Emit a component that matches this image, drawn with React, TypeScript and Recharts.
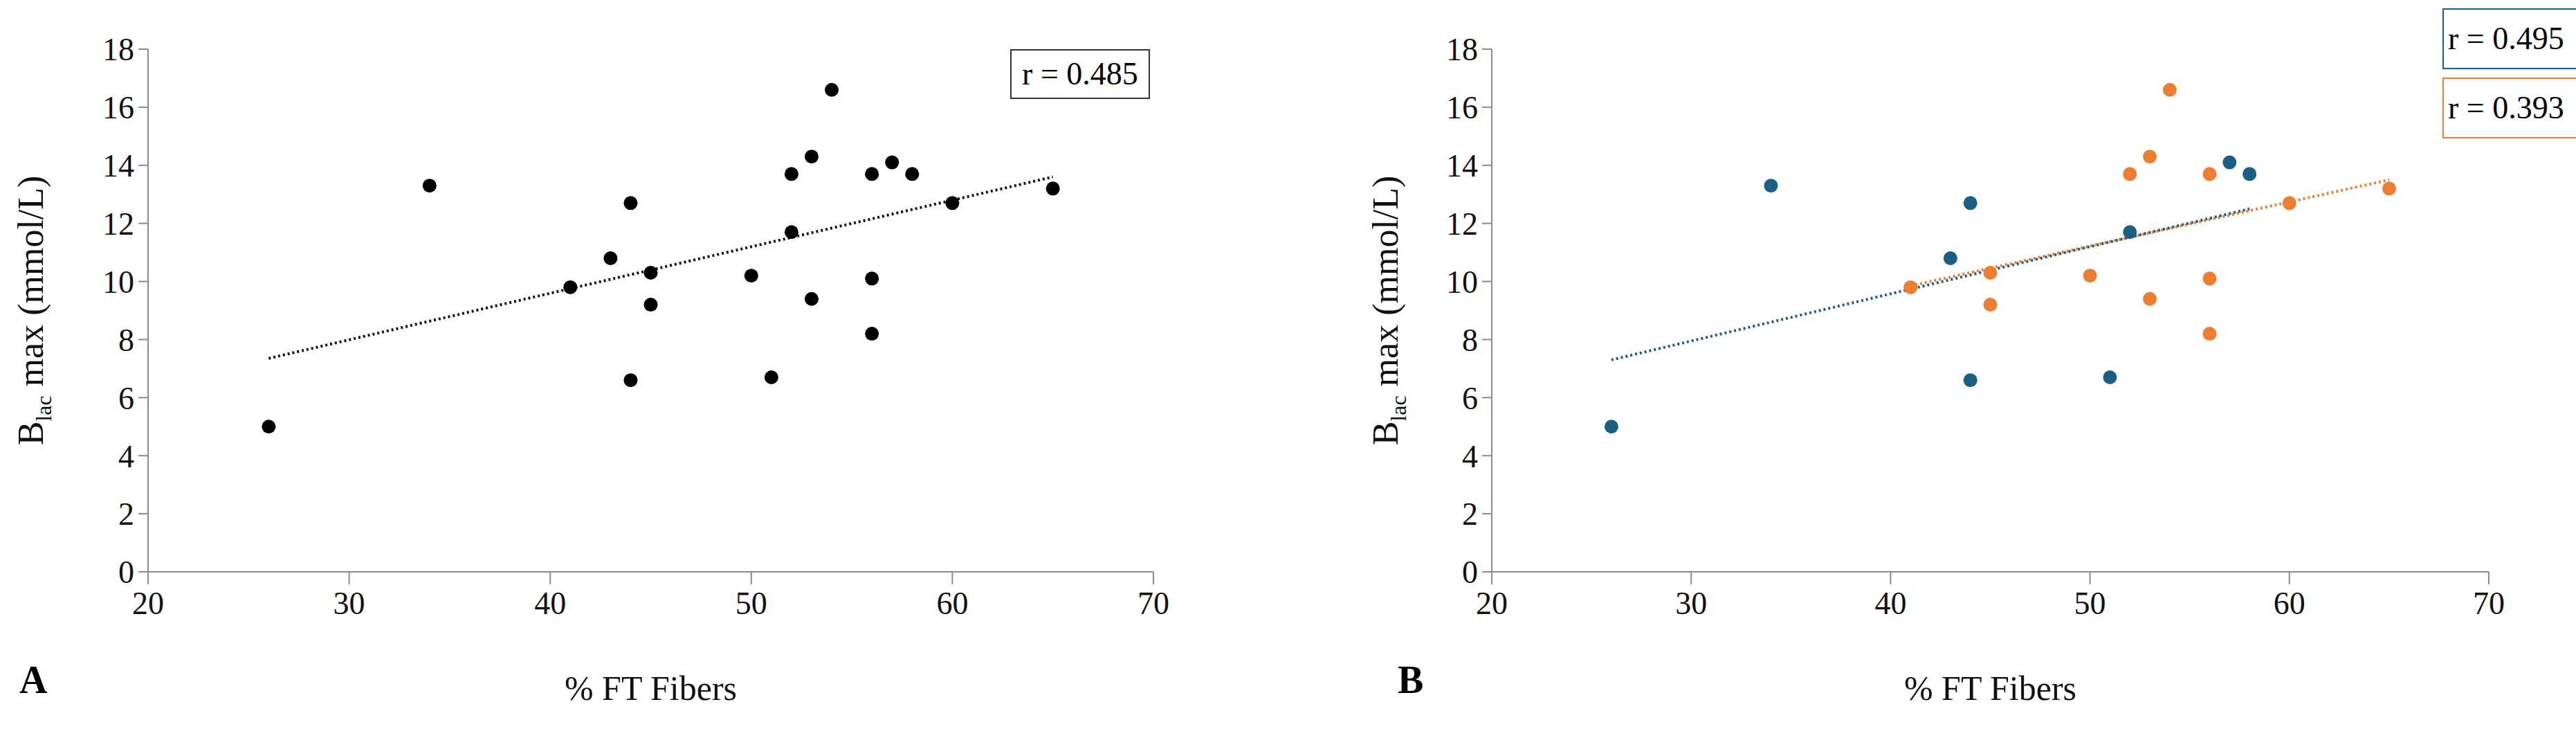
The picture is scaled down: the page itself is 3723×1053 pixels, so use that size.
import { ScatterChart, Scatter, XAxis, YAxis, ReferenceLine } from "recharts";

const xTicks = [20, 30, 40, 50, 60, 70];
const yTicks = [0, 2, 4, 6, 8, 10, 12, 14, 16, 18];

const blueGroup = [
  { x: 26, y: 5.0 }, { x: 34, y: 13.3 }, { x: 43, y: 10.8 }, { x: 44, y: 12.7 },
  { x: 44, y: 6.6 }, { x: 51, y: 6.7 }, { x: 52, y: 11.7 }, { x: 57, y: 14.1 }, { x: 58, y: 13.7 },
];
const orangeGroup = [
  { x: 41, y: 9.8 }, { x: 45, y: 10.3 }, { x: 45, y: 9.2 }, { x: 50, y: 10.2 },
  { x: 52, y: 13.7 }, { x: 53, y: 14.3 }, { x: 53, y: 9.4 }, { x: 54, y: 16.6 },
  { x: 56, y: 13.7 }, { x: 56, y: 10.1 }, { x: 56, y: 8.2 }, { x: 60, y: 12.7 }, { x: 65, y: 13.2 },
];
const allPoints = [...blueGroup, ...orangeGroup];

const trendAll = [{ x: 26, y: 7.35 }, { x: 65, y: 13.6 }];
const trendBlue = [{ x: 26, y: 7.3 }, { x: 58, y: 12.5 }];
const trendOrange = [{ x: 41, y: 9.85 }, { x: 65, y: 13.5 }];

const BLUE = "#1b5e83";
const ORANGE = "#ed7d31";
const FONT = "'Liberation Serif', 'DejaVu Serif', serif";
const AXIS = "#8c8c8c";

const YTitle = (props: any) => {
  const vb = props.viewBox;
  const cx = props.lx;
  const cy = vb.y + vb.height / 2;
  return (
    <text x={cx} y={cy} transform={`rotate(-90 ${cx} ${cy})`} textAnchor="middle" fontFamily={FONT} fontSize={52} fill="#111">
      B<tspan fontSize={32} dy={12}>lac</tspan><tspan dy={-12}> max (mmol/L)</tspan>
    </text>
  );
};

function Panel({ left, plotLeft, rightMargin, labelX, letter, letterX, children }: any) {
  return (
    <div style={{ position: "absolute", left, top: 0 }}>
      <ScatterChart width={1720} height={1053} margin={{ top: 71, right: rightMargin, left: 0, bottom: 0 }}>
        <XAxis
          type="number" dataKey="x" domain={[20, 70]} ticks={xTicks} height={227}
          tick={{ fontSize: 46, fontFamily: FONT, fill: "#111" }} tickSize={18} tickMargin={10}
          stroke={AXIS} strokeWidth={2}
          label={{ value: "% FT Fibers", position: "insideBottom", offset: 42, fontSize: 50, fontFamily: FONT, fill: "#111" }}
        />
        <YAxis
          type="number" dataKey="y" domain={[0, 18]} ticks={yTicks} width={plotLeft}
          tick={{ fontSize: 46, fontFamily: FONT, fill: "#111" }} tickSize={14} tickMargin={6}
          stroke={AXIS} strokeWidth={2}
          label={<YTitle lx={labelX} />}
        />
        {children}
      </ScatterChart>
      <div style={{ position: "absolute", left: letterX, top: 950, fontFamily: FONT, fontWeight: "bold", fontSize: 56 }}>{letter}</div>
    </div>
  );
}

const seg = (t: { x: number; y: number }[]) => t.map((p) => ({ x: p.x, y: p.y })) as any;

const boxStyle = (c: string, top: number): any => ({
  position: "absolute", left: 3530, top, width: 193, height: 88,
  borderTop: "2px solid " + c, borderLeft: "2px solid " + c, borderBottom: "2px solid " + c,
  boxSizing: "border-box", fontFamily: FONT, fontSize: 46, lineHeight: "84px",
  whiteSpace: "nowrap", overflow: "hidden", paddingLeft: 6,
});

export default function App() {
  return (
    <div style={{ position: "absolute", left: 0, top: 0, width: 3723, height: 1053, background: "#fff", fontFamily: FONT }}>
      <style>{`.recharts-text, .recharts-cartesian-axis-tick-value { font-family: ${FONT}; }`}</style>
      <Panel left={0} plotLeft={214} rightMargin={53} labelX={62} letter="A" letterX={28}>
        <ReferenceLine segment={seg(trendAll)} stroke="#111" strokeWidth={4} strokeDasharray="3 4" ifOverflow="visible" />
        <Scatter data={allPoints} fill="#000" isAnimationActive={false} shape={(p: any) => <circle cx={p.cx} cy={p.cy} r={10} fill="#000" />} />
      </Panel>
      <div style={{ position: "absolute", left: 1460, top: 71, width: 202, height: 72, border: "2px solid #333", boxSizing: "border-box", fontFamily: FONT, fontSize: 46, lineHeight: "68px", textAlign: "center" }}>r = 0.485</div>

      <Panel left={1940} plotLeft={216} rightMargin={63} labelX={80} letter="B" letterX={80}>
        <ReferenceLine segment={seg(trendOrange)} stroke={ORANGE} strokeWidth={4} strokeDasharray="3 4" ifOverflow="visible" />
        <ReferenceLine segment={seg(trendBlue)} stroke={BLUE} strokeWidth={4} strokeDasharray="3 4" ifOverflow="visible" />
        <Scatter data={blueGroup} fill={BLUE} isAnimationActive={false} shape={(p: any) => <circle cx={p.cx} cy={p.cy} r={10} fill={BLUE} />} />
        <Scatter data={orangeGroup} fill={ORANGE} isAnimationActive={false} shape={(p: any) => <circle cx={p.cx} cy={p.cy} r={10} fill={ORANGE} />} />
      </Panel>
      <div style={boxStyle(BLUE, 12)}>r = 0.495</div>
      <div style={boxStyle(ORANGE, 112)}>r = 0.393</div>
    </div>
  );
}
